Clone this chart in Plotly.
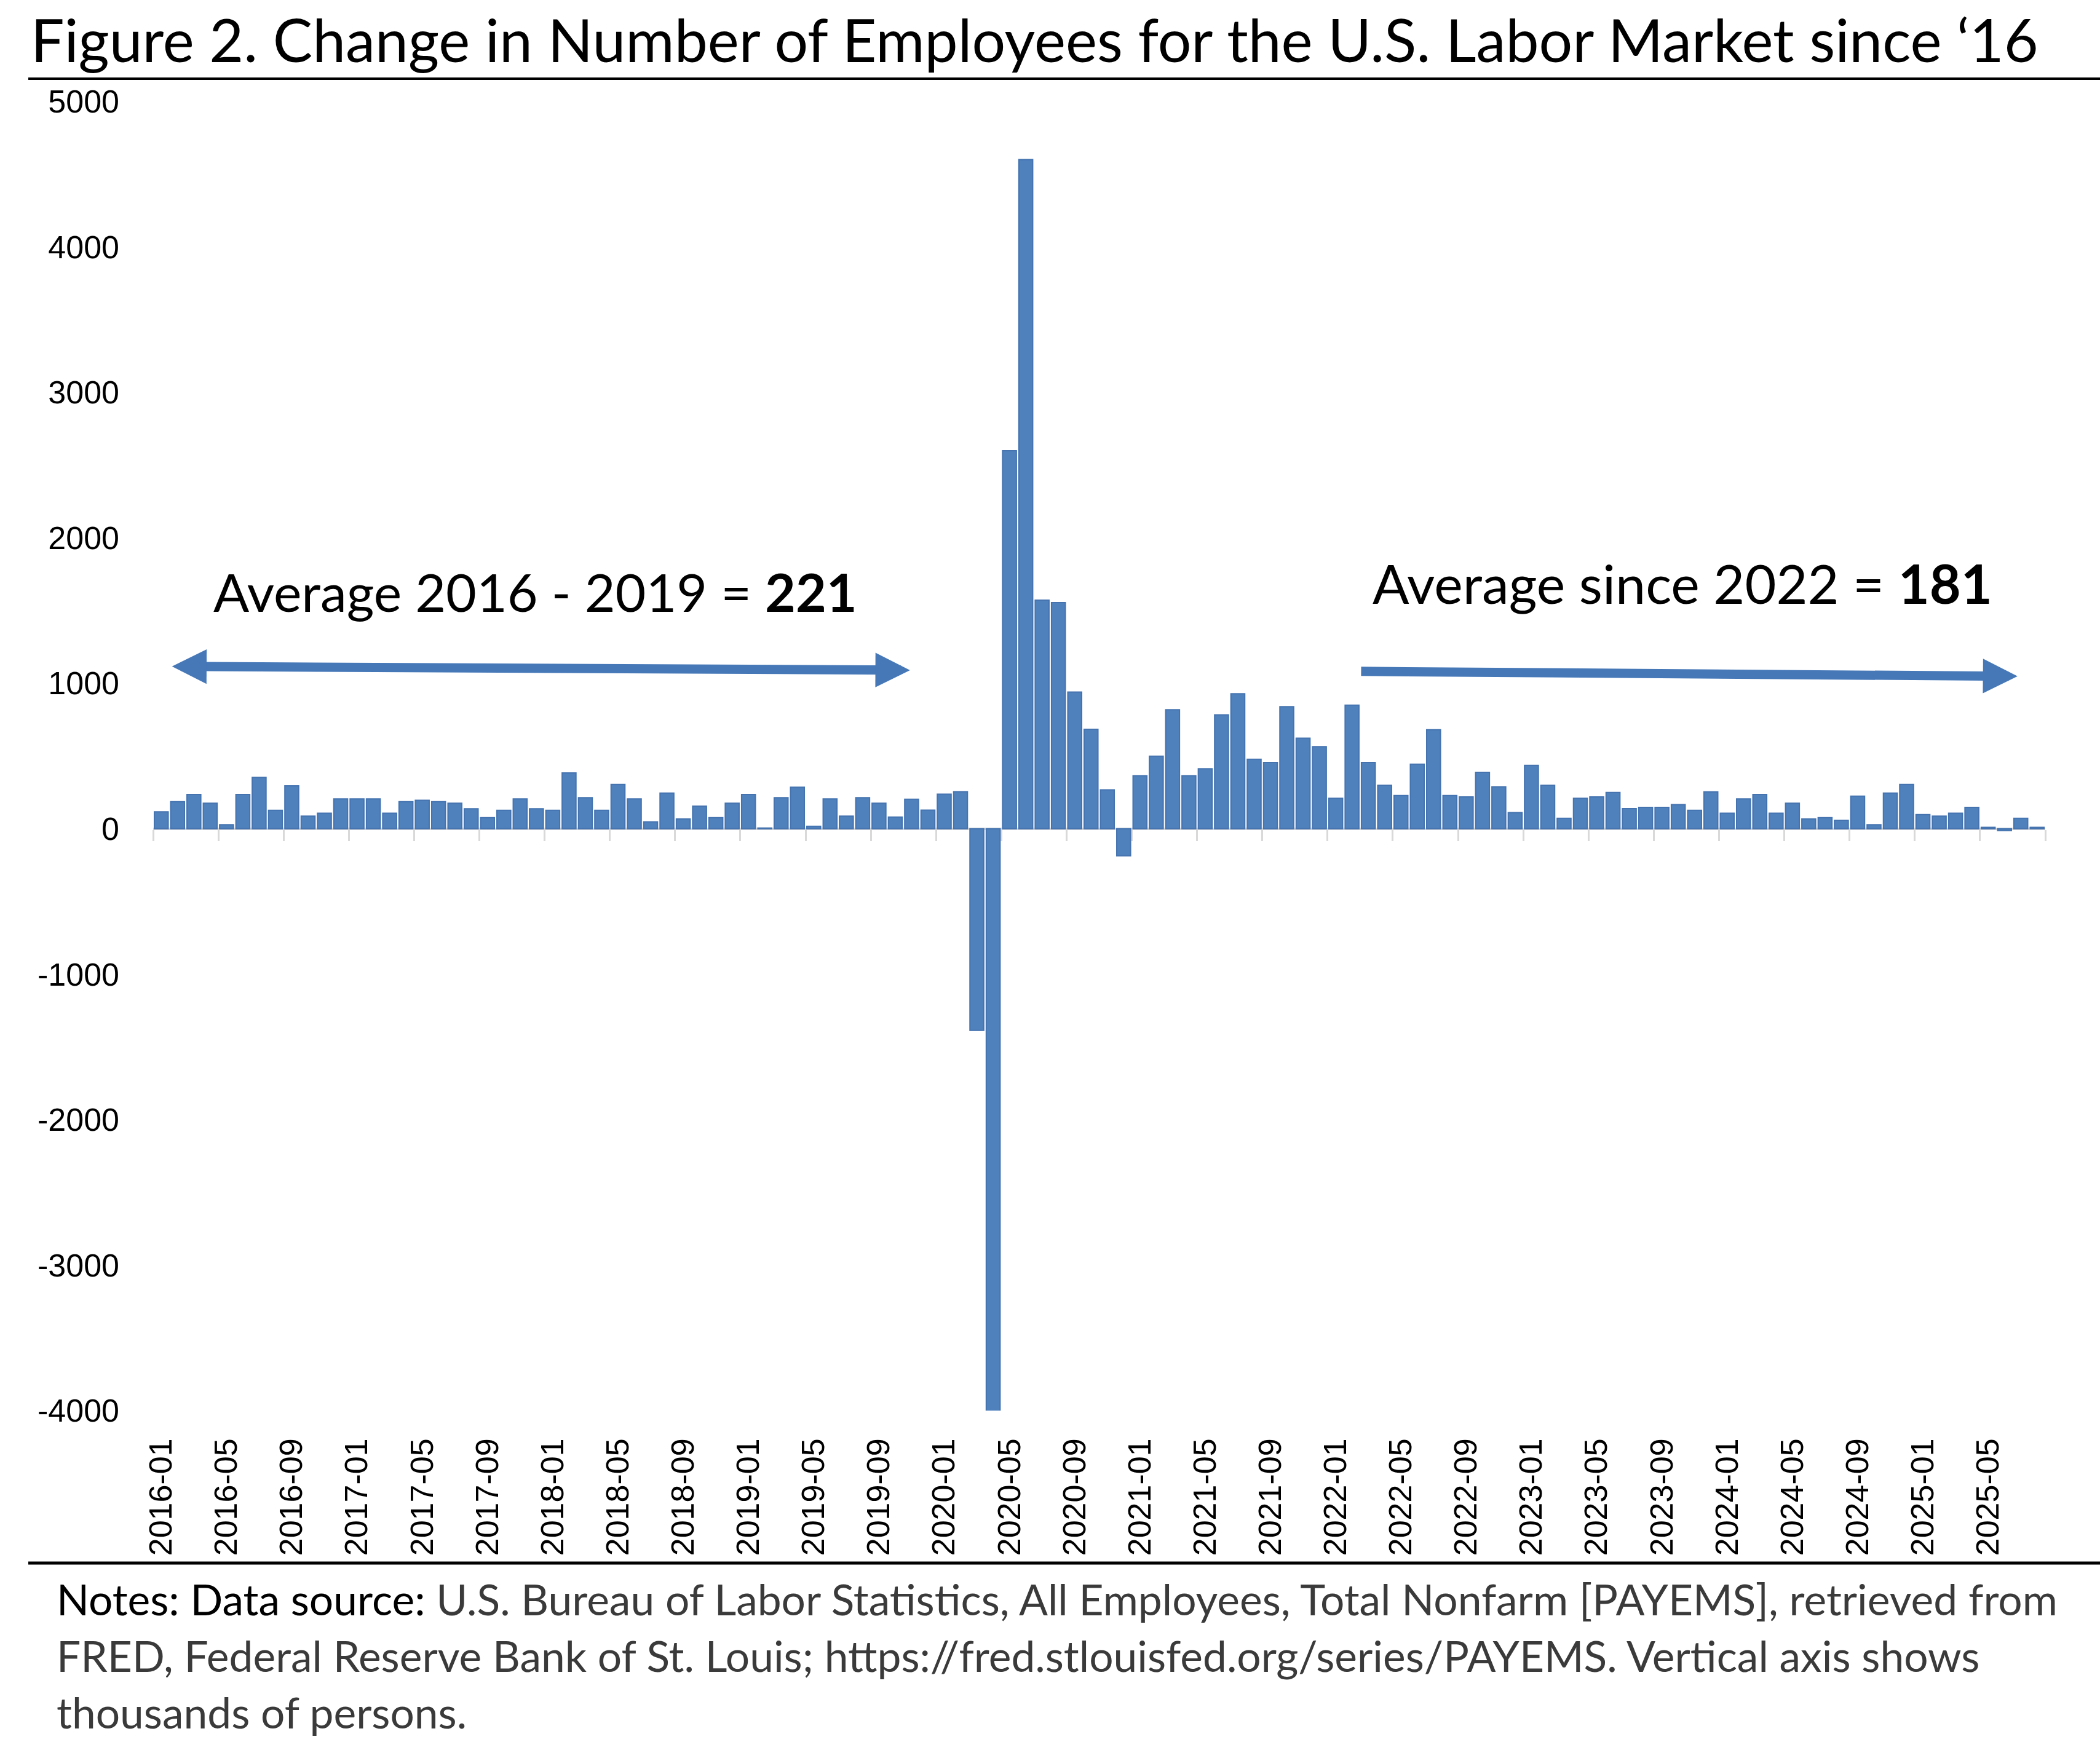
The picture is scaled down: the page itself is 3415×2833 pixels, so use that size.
import plotly.graph_objects as go

W, H = 3415, 2833

# ---------------- data ----------------
months = [f"{y}-{m:02d}" for y in range(2016, 2026) for m in range(1, 13)][:116]

chg_2016 = [116, 186, 236, 176, 28, 236, 353, 127, 295, 87, 107, 205]
chg_2017 = [205, 205, 107, 186, 196, 186, 176, 137, 76, 127, 205, 137]
chg_2018 = [127, 384, 214, 127, 305, 205, 48, 245, 68, 155, 76, 176]
chg_2019 = [236, 5, 214, 285, 17, 205, 87, 214, 176, 80, 203, 128]
chg_2020 = [238, 255, -1386, -20477, 2599, 4600, 1572, 1555, 940, 684, 267, -186]
chg_2021 = [365, 499, 818, 365, 412, 783, 928, 478, 456, 839, 623, 564]
chg_2022 = [209, 850, 456, 299, 228, 444, 681, 228, 219, 388, 289, 111]
chg_2023 = [436, 299, 72, 209, 219, 250, 139, 147, 147, 166, 127, 254]
chg_2024 = [107, 205, 236, 107, 176, 68, 76, 58, 224, 28, 245, 305]
chg_2025 = [97, 87, 107, 147, 10, -13, 72, 10]

changes = (chg_2016 + chg_2017 + chg_2018 + chg_2019 + chg_2020 + chg_2021
           + chg_2022 + chg_2023 + chg_2024 + chg_2025)

y_ticks = [5000, 4000, 3000, 2000, 1000, 0, -1000, -2000, -3000, -4000]
label_step = 4

title_text = "Figure 2. Change in Number of Employees for the U.S. Labor Market since \u201816"
avg_left_text = "Average 2016 - 2019 = <b>221</b>"
avg_right_text = "Average since 2022 = <b>181</b>"
note_lines = [
    "<span style='color:#000000'>Notes: Data source:</span> U.S. Bureau of Labor Statistics, All Employees, Total Nonfarm [PAYEMS], retrieved from",
    "FRED, Federal Reserve Bank of St. Louis; https://fred.stlouisfed.org/series/PAYEMS. Vertical axis shows",
    "thousands of persons.",
]

# ---------------- helpers ----------------
def px(xp):
    return xp / W

def py(yp):
    return 1 - yp / H

n = len(changes)
xi = list(range(n))
tick_idx = xi[::label_step]
tick_lab = [months[i] for i in tick_idx]
bound_vals = [i - 0.5 for i in range(0, n + 1, label_step)]

ymin, ymax = -4000, 5000
xdom = [px(249), px(3326)]
ydom = [py(2294), py(165)]
zero_pos = ydom[0] + (0 - ymin) / (ymax - ymin) * (ydom[1] - ydom[0])

BLUE = "#4F81BD"
ARROW = "#4678B8"

fig = go.Figure()
fig.add_trace(go.Bar(
    x=xi, y=changes, customdata=months,
    marker=dict(color=BLUE, line=dict(color="#4473B0", width=2)),
    hovertemplate="%{customdata}: %{y}<extra></extra>",
    showlegend=False,
))
# invisible helper trace so the zero-crossing category axis renders
fig.add_trace(go.Scatter(
    x=[xi[0], xi[-1]], y=[0, 0], xaxis="x2", yaxis="y",
    mode="lines", line=dict(width=0), hoverinfo="skip", showlegend=False,
))

fig.update_layout(
    width=W, height=H, autosize=False,
    margin=dict(l=0, r=0, t=0, b=0, pad=0),
    paper_bgcolor="white", plot_bgcolor="white",
    bargap=0.15,
    xaxis=dict(
        domain=xdom, range=[-0.5, n - 0.5], anchor="y", automargin=False,
        tickmode="array", tickvals=tick_idx, ticktext=tick_lab,
        tickangle=-90, ticks="", showline=False, showgrid=False, zeroline=False,
        tickfont=dict(family="Liberation Sans, Arial, sans-serif", size=52, color="#000000"),
        ticklabelstandoff=34,
    ),
    xaxis2=dict(
        domain=xdom, range=[-0.5, n - 0.5], overlaying="x", anchor="free",
        position=zero_pos, side="bottom", automargin=False,
        tickmode="array", tickvals=bound_vals, showticklabels=False,
        ticks="outside", ticklen=18, tickwidth=3, tickcolor="#D9D9D9",
        showline=True, linecolor="#D9D9D9", linewidth=4,
        showgrid=False, zeroline=False, layer="below traces",
    ),
    yaxis=dict(
        domain=ydom, range=[ymin, ymax], automargin=False,
        tickmode="array", tickvals=y_ticks, ticktext=[str(v) for v in y_ticks],
        showgrid=False, zeroline=False, showline=False, ticks="",
        tickfont=dict(family="Liberation Sans, Arial, sans-serif", size=52, color="#000000"),
        ticklabelstandoff=54,
    ),
)

shapes = [
    dict(type="line", xref="paper", yref="paper", x0=px(46), x1=1.0, y0=py(128), y1=py(128),
         line=dict(color="#000000", width=4)),
    dict(type="line", xref="paper", yref="paper", x0=px(46), x1=1.0, y0=py(2542), y1=py(2542),
         line=dict(color="#000000", width=5)),
]
fig.update_layout(shapes=shapes)

annotations = [
    dict(text=title_text, xref="paper", yref="paper", x=px(48), y=py(64),
         xanchor="left", yanchor="middle", showarrow=False,
         font=dict(family="Lato, sans-serif", size=96.5, color="#000000")),
    dict(text=avg_left_text, xref="paper", yref="paper", x=px(345), y=py(962),
         xanchor="left", yanchor="middle", showarrow=False,
         font=dict(family="Lato, sans-serif", size=86, color="#000000")),
    dict(text=avg_right_text, xref="paper", yref="paper", x=px(2230), y=py(948),
         xanchor="left", yanchor="middle", showarrow=False,
         font=dict(family="Lato, sans-serif", size=88, color="#000000")),
    # left double-headed arrow
    dict(x=45.9, y=1090, ax=0.6, ay=1116, xref="x", yref="y", axref="x", ayref="y",
         text="", showarrow=True, arrowhead=2, startarrowhead=2, arrowside="end+start",
         arrowsize=0.75, startarrowsize=0.75, arrowwidth=15, arrowcolor=ARROW),
    # right arrow
    dict(x=113.8, y=1048, ax=73.5, ay=1082, xref="x", yref="y", axref="x", ayref="y",
         text="", showarrow=True, arrowhead=2, arrowsize=0.75, arrowwidth=15, arrowcolor=ARROW),
]
note_y = [2600, 2692, 2784]
for line, yy in zip(note_lines, note_y):
    annotations.append(dict(
        text=line, xref="paper", yref="paper", x=px(90), y=py(yy),
        xanchor="left", yanchor="middle", showarrow=False,
        font=dict(family="Lato, sans-serif", size=69.5, color="#3A3A3A"),
    ))
fig.update_layout(annotations=annotations)

fig.write_html(
    "out.html",
    config={"displayModeBar": False},
    post_script="document.body.style.margin='0';document.body.style.overflow='hidden';",
)
